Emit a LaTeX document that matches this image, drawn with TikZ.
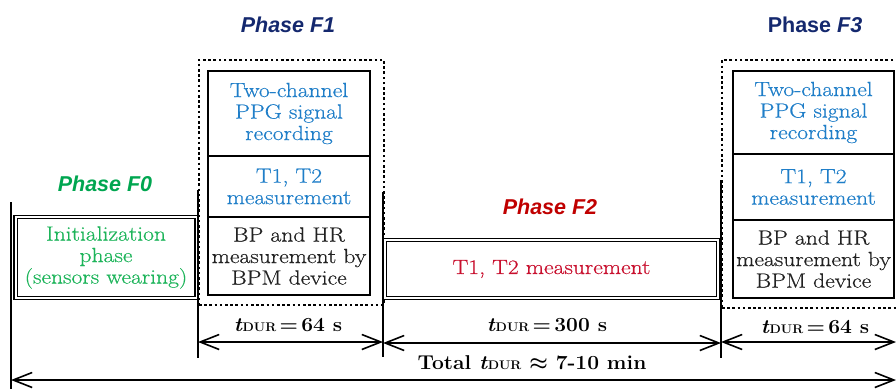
\documentclass[tikz,border=0pt]{standalone}
\usepackage{amsmath}
\usepackage{fontspec}
\newfontfamily\phasefont{Liberation Sans}
\newfontfamily\bodyfont{Latin Modern Roman}[FakeStretch=1.15,FakeBold=0.5]
\newfontfamily\durfont{Latin Modern Roman}[FakeStretch=1.05]
\usetikzlibrary{arrows.meta}
\definecolor{navy}{HTML}{14286E}
\definecolor{grlab}{HTML}{00A650}
\definecolor{grtxt}{HTML}{1DB45A}
\definecolor{rdlab}{HTML}{C00000}
\definecolor{rdtxt}{HTML}{C8102E}
\definecolor{bltxt}{HTML}{1F7EC8}
\definecolor{dktxt}{HTML}{222222}
\newcommand{\tdur}{\textit{t}{\fontsize{12.5}{14}\selectfont DUR}}
\begin{document}
\begin{tikzpicture}[x=1pt,y=-1pt,
  body/.style={align=center, inner sep=0pt, outer sep=0pt, font=\bodyfont\fontsize{20.5}{21.5}\selectfont},
  cellbox/.style={body, draw=black, line width=1.8pt},
  dbox/.style={body, draw=black, double=white, double distance=2pt, line width=1.2pt},
  dotbox/.style={draw=black, line width=2.6pt, dash pattern=on 2.6pt off 2.6pt, inner sep=0pt, outer sep=0pt},
  phase/.style={font=\phasefont\bfseries\fontsize{21.5}{25}\selectfont},
  dur/.style={font=\durfont\fontsize{20}{22}\selectfont\bfseries},
  vline/.style={line width=1.3pt},
  dimarrow/.style={line width=1.8pt, {Straight Barb[length=19pt,width=15pt,line width=1.6pt]}-{Straight Barb[length=19pt,width=15pt,line width=1.6pt]}}
]
\clip (0,0) rectangle (896,389);

% Phase labels
\node[phase, text=grlab] (pf0) at (105,184) {\itshape Phase F0};
\node[phase, text=navy] (pf1) at (288,25) {\itshape Phase F1};
\node[phase, text=rdlab] (pf2) at (550,207) {\itshape Phase F2};
\node[phase, text=navy] (pf3) at (815,25) {Phase \textit{F3}};

% F0
\node[dbox, minimum width=181pt, minimum height=81pt, text=grtxt] (f0) at (106,257.5)
  {Initialization\\phase\\(sensors wearing)};

% F1 group
\node[dotbox, minimum width=185pt, minimum height=245pt] (g1) at (291.5,182.5) {};
\node[cellbox, minimum width=162pt, minimum height=85pt, text=bltxt] (f1a) at (289,113.5)
  {Two-channel\\PPG signal\\recording};
\node[cellbox, minimum width=162pt, minimum height=61pt, text=bltxt] (f1b) at (289,186.5)
  {T1, T2\\measurement};
\node[cellbox, minimum width=162pt, minimum height=78pt, text=dktxt] (f1c) at (289,256)
  {BP and HR\\measurement by\\BPM device};

% F2
\node[dbox, minimum width=332.6pt, minimum height=57.6pt, text=rdtxt] (f2) at (551.5,269)
  {T1, T2 measurement};

% F3 group
\node[dotbox, minimum width=180pt, minimum height=248pt] (g3) at (812,184) {};
\node[cellbox, minimum width=161pt, minimum height=83pt, text=bltxt] (f3a) at (813.5,112.5)
  {Two-channel\\PPG signal\\recording};
\node[cellbox, minimum width=161pt, minimum height=66pt, text=bltxt] (f3b) at (813.5,187)
  {T1, T2\\measurement};
\node[cellbox, minimum width=161pt, minimum height=78pt, text=dktxt] (f3c) at (813.5,259)
  {BP and HR\\measurement by\\BPM device};

% vertical guide lines
\coordinate (v0t) at (11,202); \coordinate (v0b) at (11,389);
\coordinate (v1t) at (198,190); \coordinate (v1b) at (198,358);
\coordinate (v2t) at (383,192); \coordinate (v2b) at (383,357);
\coordinate (v3t) at (721,180); \coordinate (v3b) at (721,358);
\draw[vline] (v0t) -- (v0b);
\draw[vline] (v1t) -- (v1b);
\draw[vline] (v2t) -- (v2b);
\draw[vline] (v3t) -- (v3b);

% dimension arrows
\coordinate (a1l) at (198,342); \coordinate (a1r) at (383,342);
\coordinate (a2l) at (383,343); \coordinate (a2r) at (721,343);
\coordinate (a3l) at (721,342); \coordinate (a3r) at (896,342);
\coordinate (atl) at (11,380);  \coordinate (atr) at (896,380);
\draw[dimarrow] (a1l) -- (a1r);
\draw[dimarrow] (a2l) -- (a2r);
\draw[dimarrow] (a3l) -- (a3r);
\draw[dimarrow] (atl) -- (atr);

% duration labels
\node[dur] (d1) at (288,325) {\tdur{}\,=\,64 s};
\node[dur] (d2) at (547,325) {\tdur{}\,=\,300 s};
\node[dur] (d3) at (815,327) {\tdur{}\,=\,64 s};
\node[dur] (dt) at (532,363) {Total \tdur{} $\boldsymbol{\approx}$ 7-10 min};
\end{tikzpicture}
\end{document}
